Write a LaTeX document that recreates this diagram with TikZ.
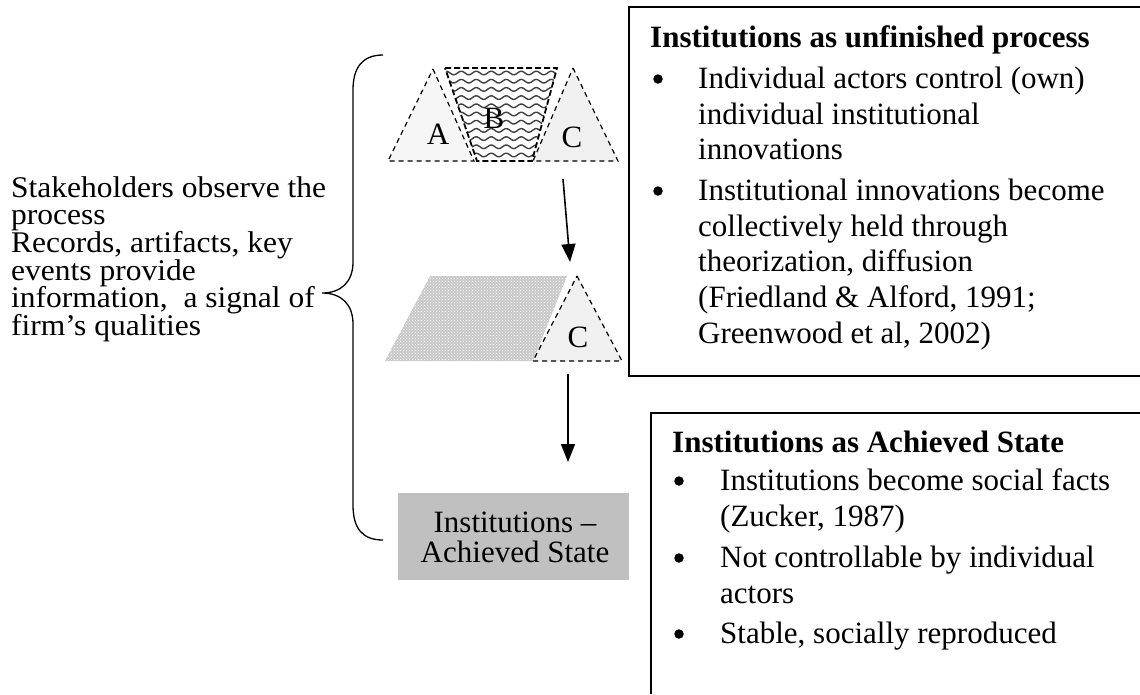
\documentclass[tikz,border=0pt]{standalone}
\usepackage{fontspec}
\setmainfont{Liberation Serif}
\newfontfamily\leftfont{Liberation Serif}[FakeStretch=1.05]
\usetikzlibrary{arrows.meta,patterns}
\newcommand\topstrut{\rule{0pt}{24pt}}
\newcommand\tightlines{\lineskiplimit=-100pt\relax\lineskip=0pt\relax}
\definecolor{boxgray}{RGB}{192,192,192}
\definecolor{lightfill}{RGB}{240,240,240}
\definecolor{afill}{RGB}{246,246,246}
\definecolor{parfill}{RGB}{200,200,200}
\begin{document}
\begin{tikzpicture}[x=1pt,y=-1pt,
  txtr/.style={inner sep=0pt, align=left, anchor=north west,
    font=\fontsize{31}{35.8}\selectfont\tightlines},
  txtl/.style={inner sep=0pt, align=left, anchor=north west,
    font=\leftfont\fontsize{30}{27.6}\selectfont\tightlines},
  txtc/.style={inner sep=0pt, align=center, anchor=north,
    font=\fontsize{31}{30}\selectfont\tightlines},
  ttl/.style={inner sep=0pt, anchor=base west, font=\fontsize{31}{35}\selectfont\bfseries},
  dot/.style={circle, fill=black, inner sep=0pt, minimum size=9.5pt},
  lbl/.style={inner sep=0pt, font=\fontsize{31}{35}\selectfont},
  dsh/.style={line width=1.2pt, dash pattern=on 5pt off 4pt},
  dshb/.style={line width=1.8pt, dash pattern=on 6pt off 3pt},
  arr/.style={line width=1.6pt, -{Triangle[length=18pt,width=14pt]}},
  frame/.style={line width=1.6pt}
]
\useasboundingbox (0,0) rectangle (1140,694);

% left text
\node[txtl] (obs) at (11,173) {\topstrut Stakeholders observe the\\process\\Records, artifacts, key\\events provide\\information,\ \ a signal of\\firm’s qualities};

% brace
\draw[line width=1.3pt] (383,55) .. controls (362,55) and (353,68) .. (353,90) -- (353,262)
  .. controls (353,282) and (341,293) .. (322,293)
  .. controls (341,293) and (353,304) .. (353,324) -- (353,505)
  .. controls (353,528) and (362,540) .. (383,540);

% top row: A, B, C
\filldraw[fill=afill, dsh] (433,69) -- (474,161) -- (388,161) -- cycle;
\filldraw[fill=lightfill, dsh] (573,68) -- (618,161) -- (533,161) -- cycle;
\begin{scope}
  \clip (445,68) -- (557,68) -- (532,161) -- (477,161) -- cycle;
  \fill[white] (440,60) rectangle (565,165);
  \foreach \r in {0,...,11}{
    \draw[line width=1.4pt, black!75] plot[domain=440:562, samples=90]
      (\x, {73+\r*8.2+1.8*sin(24*\x)});
  }
\end{scope}
\draw[dshb] (445,68) -- (557,68) -- (532,161) -- (477,161) -- cycle;
\node[lbl] (la) at (438,134) {A};
\node[lbl] (lb) at (494,118) {B};
\node[lbl] (lc) at (572,137) {C};

% middle row
\fill[parfill] (430,276) -- (567,276) -- (533,361) -- (385,361) -- cycle;
\fill[pattern=crosshatch dots, pattern color=white] (430,276) -- (567,276) -- (533,361) -- (385,361) -- cycle;
\filldraw[fill=lightfill, dsh] (577,276) -- (622,361) -- (533,361) -- cycle;
\node[lbl] (lc2) at (578,337) {C};

% arrows
\coordinate (a1s) at (563,179);
\coordinate (a1e) at (570,262);
\coordinate (a2s) at (568,374);
\coordinate (a2e) at (568,462);
\draw[arr] (a1s) -- (a1e);
\draw[arr] (a2s) -- (a2e);

% achieved state box
\node[fill=boxgray, minimum width=231pt, minimum height=87pt, inner sep=0pt, anchor=north west] (state) at (398,493) {};
\node[txtc] (statetxt) at (515,508) {\topstrut Institutions –\\Achieved State};

% right box 1
\draw[frame] (1140,7) -- (629,7) -- (629,376) -- (1140,376);
\node[ttl] (t1) at (650,47) {Institutions as unfinished process};
\node[dot] (b11) at (658,79) {};
\node[txtr] (i11) at (698,64) {\topstrut Individual actors control (own)\\individual institutional\\innovations};
\node[dot] (b12) at (658,191) {};
\node[txtr] (i12) at (698,176) {\topstrut Institutional innovations become\\collectively held through\\theorization, diffusion\\(Friedland \& Alford, 1991;\\Greenwood et al, 2002)};

% right box 2
\draw[frame] (1140,413) -- (651,413) -- (651,694);
\node[ttl] (t2) at (672,452) {Institutions as Achieved State};
\node[dot] (b21) at (679,481) {};
\node[txtr] (i21) at (720,466) {\topstrut Institutions become social facts\\(Zucker, 1987)};
\node[dot] (b22) at (679,558) {};
\node[txtr] (i22) at (720,543) {\topstrut Not controllable by individual\\actors};
\node[dot] (b23) at (679,634) {};
\node[txtr] (i23) at (720,619) {\topstrut Stable, socially reproduced};
\end{tikzpicture}
\end{document}
